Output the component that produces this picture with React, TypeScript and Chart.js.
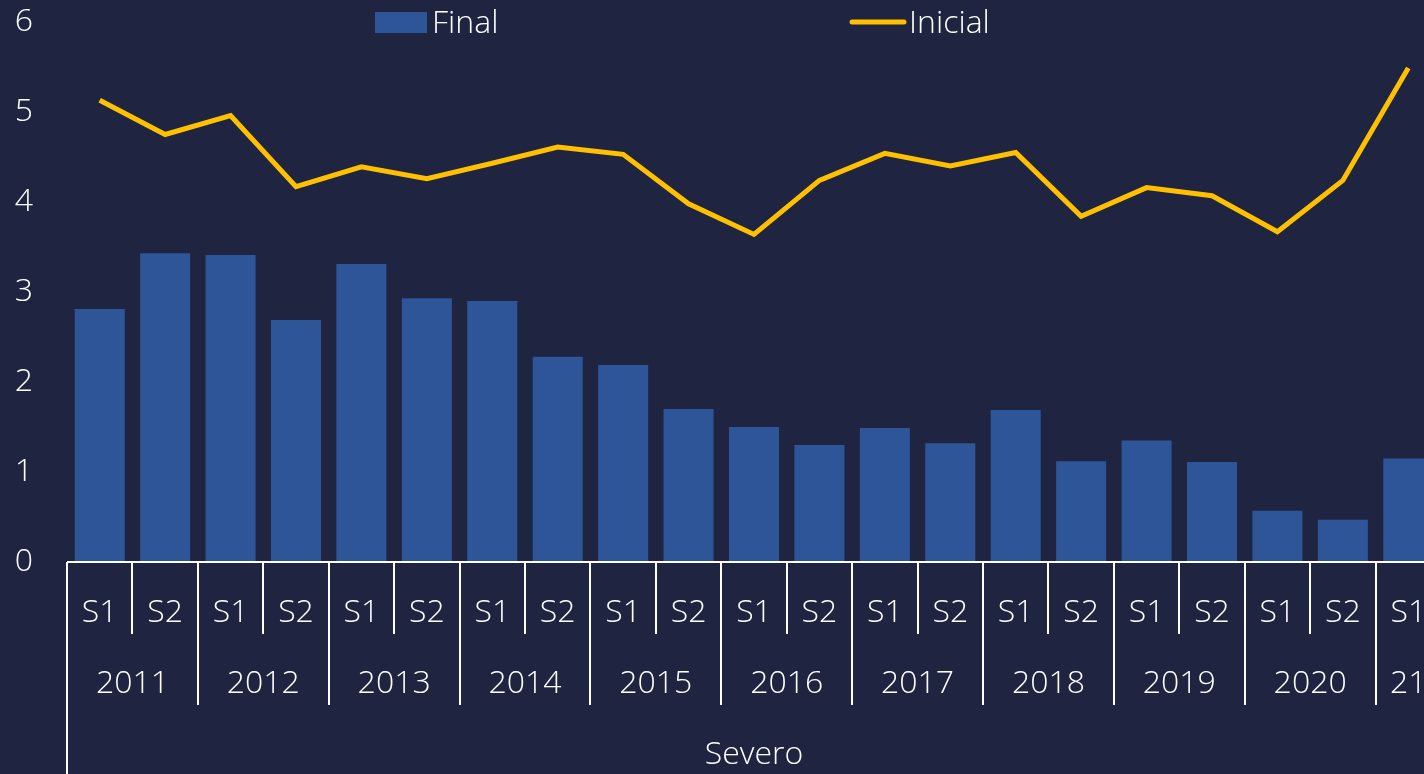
import React, { useEffect, useRef } from "react";
import { Chart, registerables } from "chart.js";

Chart.register(...registerables);

const semesterLabels = ["S1","S2","S1","S2","S1","S2","S1","S2","S1","S2","S1","S2","S1","S2","S1","S2","S1","S2","S1","S2","S1"];
const yearLabels = ["2011","2012","2013","2014","2015","2016","2017","2018","2019","2020","21"];
const groupLabel = "Severo";
const finalValues = [2.81,3.43,3.41,2.69,3.31,2.93,2.90,2.28,2.19,1.70,1.50,1.30,1.49,1.32,1.69,1.12,1.35,1.11,0.57,0.47,1.15];
const inicialValues = [5.13,4.75,4.96,4.17,4.39,4.26,4.43,4.61,4.53,3.98,3.64,4.24,4.54,4.40,4.55,3.84,4.16,4.07,3.67,4.24,5.49];
const yMin = 0;
const yMax = 6;

const BG = "#1f2440";
const BAR = "#2e5597";
const LINE = "#ffc000";
const TXT = "#ffffff";
const FONT = "300 32px 'Open Sans', 'Segoe UI', sans-serif";

const categoryKeys = semesterLabels.map((s, i) => i + ":" + s);

const multiAxisPlugin = {
  id: "multiAxis",
  afterDraw(chart: any) {
    const ctx = chart.ctx;
    const area = chart.chartArea;
    const x = chart.scales.x;
    const n = semesterLabels.length;
    const w = (area.right - area.left) / n;
    const y0 = area.bottom;
    ctx.save();
    ctx.strokeStyle = TXT;
    ctx.lineWidth = 2;
    ctx.beginPath();
    ctx.moveTo(area.left, y0);
    ctx.lineTo(area.right + 2, y0);
    ctx.stroke();
    for (let i = 0; i <= n; i++) {
      const xx = Math.round(area.left + i * w);
      let bottom = y0 + 72;
      if (i % 2 === 0) bottom = y0 + 143;
      if (i === 0) bottom = chart.height;
      ctx.beginPath();
      ctx.moveTo(xx, y0);
      ctx.lineTo(xx, bottom);
      ctx.stroke();
    }
    ctx.fillStyle = TXT;
    ctx.font = FONT;
    ctx.textAlign = "center";
    ctx.textBaseline = "middle";
    for (let i = 0; i < n; i++) {
      const cx = x.getPixelForValue(i);
      ctx.fillText(semesterLabels[i], cx, y0 + 51);
    }
    for (let j = 0; j < yearLabels.length; j++) {
      const a = j * 2;
      const b = Math.min(j * 2 + 1, n - 1);
      const cx = (x.getPixelForValue(a) + x.getPixelForValue(b)) / 2;
      ctx.fillText(yearLabels[j], cx, y0 + 122);
    }
    ctx.fillText(groupLabel, (area.left + area.right) / 2, y0 + 193);

    ctx.textAlign = "left";
    ctx.fillStyle = BAR;
    ctx.fillRect(375, 12, 52, 21);
    ctx.fillStyle = TXT;
    ctx.fillText("Final", 432, 24);
    ctx.strokeStyle = LINE;
    ctx.lineWidth = 5;
    ctx.lineCap = "round";
    ctx.beginPath();
    ctx.moveTo(852, 22);
    ctx.lineTo(904, 22);
    ctx.stroke();
    ctx.fillStyle = TXT;
    ctx.fillText("Inicial", 909, 24);
    ctx.restore();
  },
};

const bgPlugin = {
  id: "bg",
  beforeDraw(chart: any) {
    const ctx = chart.ctx;
    ctx.save();
    ctx.fillStyle = BG;
    ctx.fillRect(0, 0, chart.width, chart.height);
    ctx.restore();
  },
};

export default function App() {
  const ref = useRef<HTMLCanvasElement | null>(null);
  useEffect(() => {
    if (!ref.current) return;
    const chart = new Chart(ref.current, {
      type: "bar",
      data: {
        labels: categoryKeys,
        datasets: [
          {
            type: "line",
            label: "Inicial",
            data: inicialValues,
            borderColor: LINE,
            backgroundColor: LINE,
            borderWidth: 5,
            pointRadius: 0,
            tension: 0,
            order: 0,
          } as any,
          {
            type: "bar",
            label: "Final",
            data: finalValues,
            backgroundColor: BAR,
            borderWidth: 0,
            categoryPercentage: 1,
            barPercentage: 0.765,
            order: 1,
          },
        ],
      },
      options: {
        responsive: false,
        animation: false,
        layout: { padding: { top: 22, right: 0, left: 0, bottom: 0 } },
        plugins: { legend: { display: false }, tooltip: { enabled: false } },
        scales: {
          x: {
            type: "category",
            offset: true,
            grid: { display: false },
            border: { display: false },
            ticks: { display: false },
            afterFit(scale: any) {
              scale.height = 212;
              scale.paddingLeft = 0;
              scale.paddingRight = 0;
            },
          },
          y: {
            min: yMin,
            max: yMax,
            grid: { display: false },
            border: { display: false },
            ticks: {
              stepSize: 1,
              padding: 26,
              color: TXT,
              font: { family: "'Open Sans', sans-serif", size: 32, weight: "300" as any },
            },
            afterFit(scale: any) {
              scale.width = 67;
              scale.paddingTop = 0;
              scale.paddingBottom = 0;
            },
          },
        },
      },
      plugins: [bgPlugin, multiAxisPlugin],
    });
    return () => chart.destroy();
  }, []);
  return (
    <div style={{ position: "fixed", left: 0, top: 0, width: "100vw", height: "100vh", overflow: "hidden", background: BG }}>
      <canvas ref={ref} width={1441} height={774} style={{ display: "block" }} />
    </div>
  );
}
